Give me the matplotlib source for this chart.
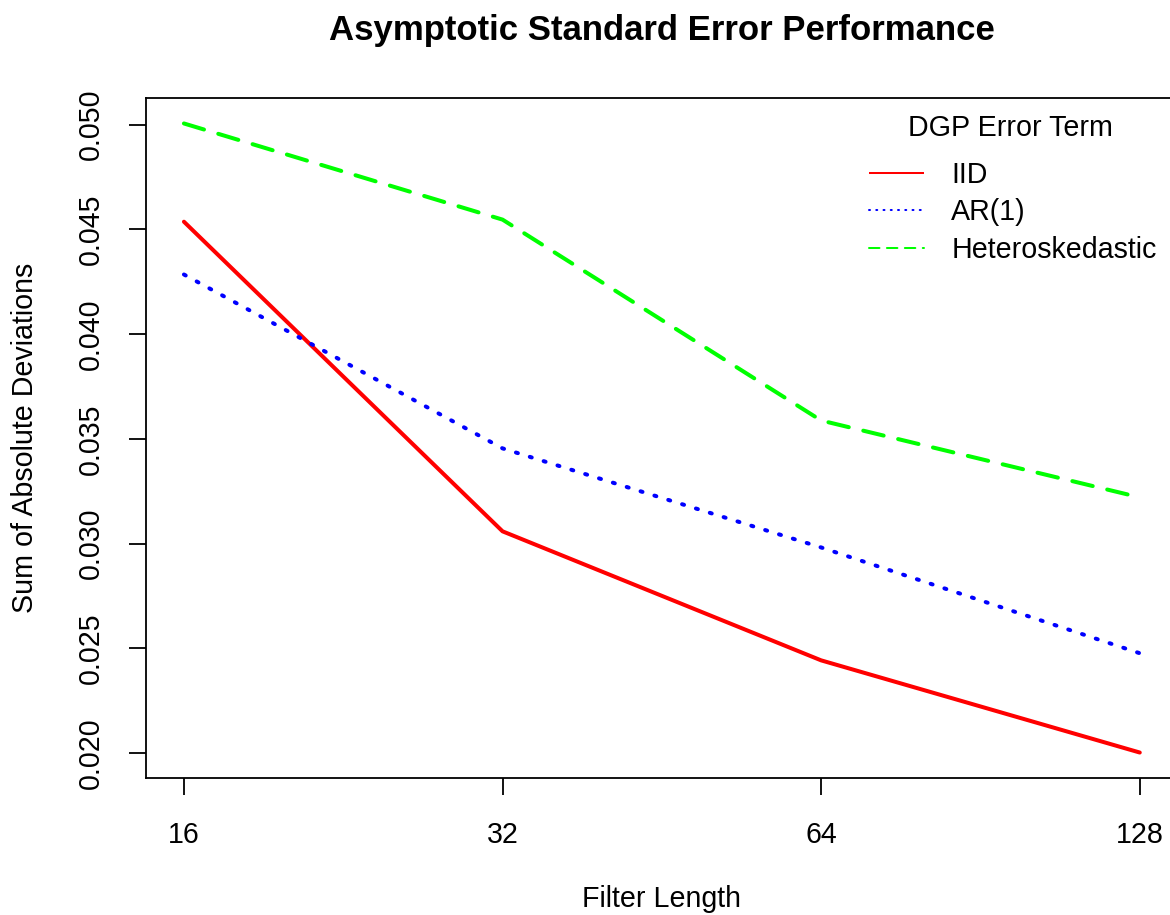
import matplotlib
matplotlib.use("Agg")
import matplotlib.pyplot as plt
from matplotlib.ticker import FixedLocator, FixedFormatter, NullLocator

# ---- data ----
filter_length = [16, 32, 64, 128]
x_tick_labels = ["16", "32", "64", "128"]
iid = [0.04537, 0.03059, 0.02443, 0.02003]
ar1 = [0.04285, 0.03455, 0.02982, 0.02477]
hetero = [0.05006, 0.04547, 0.03588, 0.03221]
y_ticks = [0.020, 0.025, 0.030, 0.035, 0.040, 0.045, 0.050]
y_tick_labels = ["0.020", "0.025", "0.030", "0.035", "0.040", "0.045", "0.050"]
series_names = ["IID", "AR(1)", "Heteroskedastic"]

plt.rcParams['font.family'] = ['Liberation Sans', 'DejaVu Sans']
FS = 20.6

W, H = 1170, 915
fig = plt.figure(figsize=(W / 100, H / 100), dpi=100)
ax = fig.add_axes([145.7 / W, 1 - 777.7 / H, (1178 - 145.7) / W, (777.7 - 98.3) / H])

lw = 2.9
ax.plot(filter_length, iid, color='#FF0000', lw=lw, solid_capstyle='round', label=series_names[0])
ax.plot(filter_length, ar1, color='#0000FF', lw=lw, dashes=(0.5, 3.1), dash_capstyle='round', label=series_names[1])
ax.plot(filter_length, hetero, color='#00FF00', lw=lw, dashes=(5.2, 3.7), dash_capstyle='round', label=series_names[2])

ax.set_xscale('log', base=2)
ax.margins(x=0.04, y=0.04)
ax.xaxis.set_major_locator(FixedLocator(filter_length))
ax.xaxis.set_major_formatter(FixedFormatter(x_tick_labels))
ax.xaxis.set_minor_locator(NullLocator())
ax.yaxis.set_major_locator(FixedLocator(y_ticks))
ax.yaxis.set_major_formatter(FixedFormatter(y_tick_labels))

for s in ax.spines.values():
    s.set_linewidth(1.3)
ax.tick_params(axis='both', direction='out', length=12.3, width=1.3, labelsize=FS, color='black')
ax.tick_params(axis='x', pad=19)
ax.tick_params(axis='y', pad=17)
for lab in ax.get_yticklabels():
    lab.set_rotation(90)
    lab.set_va('center')

fig.text(662 / W, 1 - 40 / H, "Asymptotic Standard Error Performance", ha='center', va='baseline',
         fontsize=25, fontweight='bold')
fig.text(662 / W, 1 - 899 / H, "Filter Length", ha='center', va='center', fontsize=FS)
fig.text(25 / W, 1 - 438 / H, "Sum of Absolute Deviations", ha='center', va='center', fontsize=FS, rotation=90)

# legend title and entries
fig.text(1010 / W, 1 - 136 / H, "DGP Error Term", ha='center', va='baseline', fontsize=FS)
leg = ax.legend(loc='upper left', bbox_to_anchor=(869 / W, 1 - 161 / H),
                bbox_transform=fig.transFigure, frameon=False, fontsize=FS,
                handlelength=1.92, handletextpad=0.96, labelspacing=0.33, borderpad=0, borderaxespad=0)
for ln in leg.get_lines():
    ln.set_linewidth(1.45)
    ln.set_solid_capstyle('butt')

fig.savefig("out.png", dpi=100)
